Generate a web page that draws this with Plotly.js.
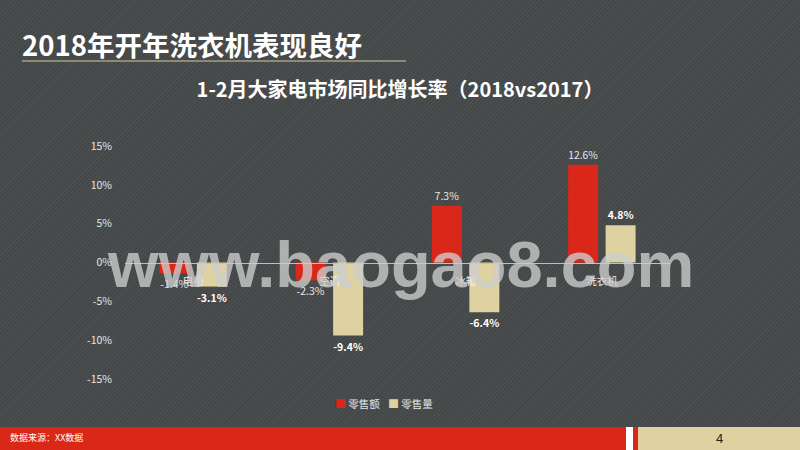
<!DOCTYPE html>
<html>
<head>
<meta charset="utf-8">
<script src="https://cdn.plot.ly/plotly-3.0.1.min.js"></script>
<style>
html,body{margin:0;padding:0;width:800px;height:450px;overflow:hidden;
background-color:#46494a;
background-image:repeating-linear-gradient(135deg, rgba(255,255,255,0.03) 0px, rgba(255,255,255,0.03) 1px, rgba(0,0,0,0.04) 2px, rgba(0,0,0,0.04) 3px);}
#chart{width:800px;height:450px;}
</style>
</head>
<body>
<div id="chart"></div>
<script>
const categories = ['电视', '空调', '冰箱', '洗衣机'];
const salesValue = [-1.4, -2.3, 7.3, 12.6];   // 零售额
const salesVolume = [-3.1, -9.4, -6.4, 4.8];  // 零售量
const seriesNames = ['零售额', '零售量'];
const seriesColors = ['#d9271a', '#ded2a1'];
const yTicks = [-15, -10, -5, 0, 5, 10, 15];

const FONT = '"Noto Sans CJK SC", "Noto Sans", sans-serif';
const fmt = v => v.toFixed(1) + '%';

const traces = [
  {type:'bar', name:seriesNames[0], x:categories, y:salesValue,
   marker:{color:seriesColors[0]},
   text:salesValue.map(fmt), textposition:'outside', cliponaxis:false,
   textfont:{color:'#e6e6e6', size:10.5, family:FONT}},
  {type:'bar', name:seriesNames[1], x:categories, y:salesVolume,
   marker:{color:seriesColors[1]},
   text:salesVolume.map(v => '<b>' + fmt(v) + '</b>'), textposition:'outside', cliponaxis:false,
   textfont:{color:'#ffffff', size:10.5, family:FONT}}
];

const px = x => (x - 125) / 545;
const py = y => (379 - y) / 233;

const legendAnn = [
  {x:px(333), sq:seriesColors[0], name:seriesNames[0]},
  {x:px(386), sq:seriesColors[1], name:seriesNames[1]}
].map(d => ({
  text:'<span style="color:' + d.sq + ';font-size:11px">■</span> ' + d.name,
  xref:'paper', yref:'paper', x:d.x, y:py(403), xanchor:'left', yanchor:'middle', showarrow:false,
  font:{size:10.5, color:'#e6e6e6', family:FONT}
}));

const layout = {
  width:800, height:450,
  paper_bgcolor:'rgba(0,0,0,0)', plot_bgcolor:'rgba(0,0,0,0)',
  margin:{l:125, r:130, t:146, b:71},
  font:{family:FONT, color:'#e6e6e6', size:10},
  barmode:'group', bargap:0.45, bargroupgap:0.2,
  title:{text:'<b>1-2月大家电市场同比增长率（2018vs2017）</b>', x:0.5, xanchor:'center', y:0.8, yanchor:'middle', yref:'container',
         font:{size:20, color:'#ffffff', family:FONT}},
  xaxis:{type:'category', anchor:'free', position:0.5, showline:true, linecolor:'#bfbfbf', linewidth:1,
         ticks:'', showgrid:false, zeroline:false, tickfont:{size:10.5, color:'#f0f0f0'}, ticklabelstandoff:9},
  yaxis:{range:[-15,15], tickvals:yTicks, ticktext:yTicks.map(v => v + '%'), showgrid:false, zeroline:false,
         showline:false, ticks:'', tickfont:{size:10.5, color:'#e6e6e6'}, ticklabelstandoff:12},
  showlegend:false,
  shapes:[
    {type:'line', xref:'paper', yref:'paper', x0:px(22), x1:px(406), y0:py(61), y1:py(61),
     line:{color:'#a69f80', width:1.5}},
    {type:'rect', xref:'paper', yref:'paper', x0:px(0), x1:px(626), y0:py(427), y1:py(452),
     fillcolor:'#da2816', line:{width:0}},
    {type:'rect', xref:'paper', yref:'paper', x0:px(626), x1:px(633), y0:py(427), y1:py(452),
     fillcolor:'#ffffff', line:{width:0}},
    {type:'rect', xref:'paper', yref:'paper', x0:px(633), x1:px(638), y0:py(427), y1:py(452),
     fillcolor:'#da2816', line:{width:0}},
    {type:'rect', xref:'paper', yref:'paper', x0:px(638), x1:px(802), y0:py(427), y1:py(452),
     fillcolor:'#ded2a1', line:{width:0}}
  ],
  annotations:[
    {text:'<b>2018年开年洗衣机表现良好</b>', xref:'paper', yref:'paper', x:px(20), y:py(44),
     xanchor:'left', yanchor:'middle', showarrow:false, font:{size:27.5, color:'#ffffff', family:FONT}},
    {text:'数据来源：XX数据', xref:'paper', yref:'paper', x:px(8), y:py(437),
     xanchor:'left', yanchor:'middle', showarrow:false, font:{size:9, color:'#ffffff', family:FONT}},
    {text:'4', xref:'paper', yref:'paper', x:px(719), y:py(438),
     xanchor:'center', yanchor:'middle', showarrow:false, font:{size:13, color:'#222222', family:'"Liberation Sans", sans-serif'}},
    {text:'<b>www.baogao8.com</b>', xref:'paper', yref:'paper', x:px(400), y:py(264),
     xanchor:'center', yanchor:'middle', showarrow:false,
     font:{size:65, color:'rgba(205,205,205,0.78)', family:'"Liberation Sans", Arial, sans-serif'}}
  ].concat(legendAnn)
};

Plotly.newPlot('chart', traces, layout, {displayModeBar:false, staticPlot:true});
</script>
</body>
</html>
